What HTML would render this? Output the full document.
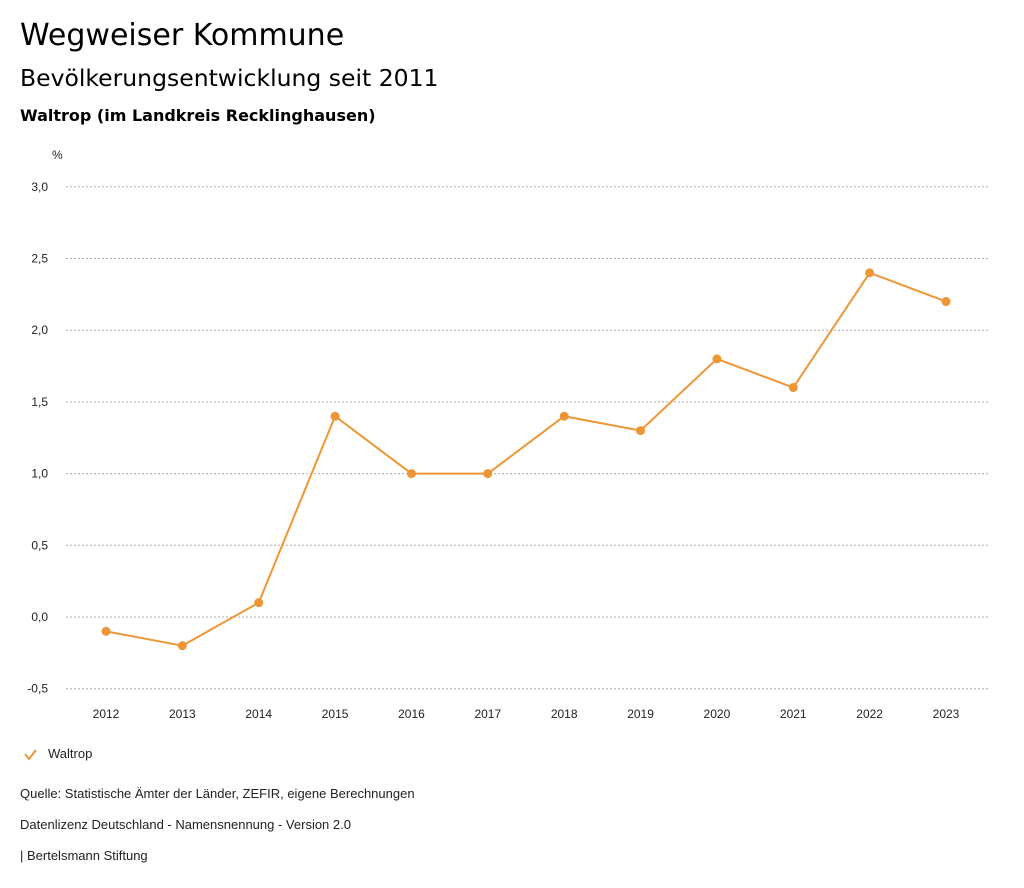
<!DOCTYPE html>
<html><head><meta charset="utf-8"><style>
body{margin:0;background:#fff;font-family:"Liberation Sans",sans-serif;color:#000;}
#wrap{position:relative;width:1024px;height:888px;overflow:hidden;}
.t{position:absolute;white-space:nowrap;}
.dj{font-family:"DejaVu Sans",sans-serif;}
</style></head><body><div id="wrap">
<div class="t dj" style="left:20px;top:18px;font-size:30px">Wegweiser Kommune</div>
<div class="t dj" style="left:20px;top:64px;font-size:23.5px">Bevölkerungsentwicklung seit 2011</div>
<div class="t dj" style="left:20px;top:106px;font-size:16px;font-weight:bold">Waltrop (im Landkreis Recklinghausen)</div>
<svg id="chart" width="1024" height="888" style="position:absolute;left:0;top:0"></svg>
<div class="t" style="left:48px;top:746px;font-size:13px;color:#222">Waltrop</div>
<div class="t" style="left:20px;top:786px;font-size:13px;color:#222">Quelle: Statistische Ämter der Länder, ZEFIR, eigene Berechnungen</div>
<div class="t" style="left:20px;top:817px;font-size:13px;color:#222">Datenlizenz Deutschland - Namensnennung - Version 2.0</div>
<div class="t" style="left:20px;top:848px;font-size:13px;color:#222">| Bertelsmann Stiftung</div>
</div>
<script>
const years=["2012","2013","2014","2015","2016","2017","2018","2019","2020","2021","2022","2023"];
const values=[-0.1,-0.2,0.1,1.4,1.0,1.0,1.4,1.3,1.8,1.6,2.4,2.2];
const yTicks=[-0.5,0,0.5,1,1.5,2,2.5,3];
const NS="http://www.w3.org/2000/svg",svg=document.getElementById('chart');
const col="#ee9636";
function y(v){return 617-v*143.4;}
function x(i){return 106+i*(946-106)/(years.length-1);}
function mk(t,a,p){const e=document.createElementNS(NS,t);for(const k in a)e.setAttribute(k,a[k]);(p||svg).appendChild(e);return e;}
const ax=mk('text',{x:52,y:159,'font-size':12,fill:'#222','font-family':'Liberation Sans, sans-serif'});ax.textContent='%';


yTicks.forEach(v=>{
 const l=mk('line',{x1:66,x2:990,y1:y(v),y2:y(v),stroke:'#aaa','stroke-dasharray':'2,2','stroke-width':1});
 
 
 const t=mk('text',{x:48,y:y(v)+4,'font-size':12,fill:'#222','text-anchor':'end','font-family':'Liberation Sans, sans-serif'});
 t.textContent=v.toFixed(1).replace('.',',');
 
 
});
years.forEach((yr,i)=>{
 const t=mk('text',{x:x(i),y:718,'font-size':12,fill:'#222','text-anchor':'middle','font-family':'Liberation Sans, sans-serif'});
 t.textContent=yr;
 
 
});
const pl=mk('polyline',{points:values.map((v,i)=>x(i)+','+y(v)).join(' '),fill:'none',stroke:col,'stroke-width':2});


values.forEach((v,i)=>{
 const c=mk('circle',{cx:x(i),cy:y(v),r:4.5,fill:col});
 
 
});
const chk=mk('polyline',{points:'25,754 29,759 36,750',fill:'none',stroke:col,'stroke-width':2});


</script></body></html>
